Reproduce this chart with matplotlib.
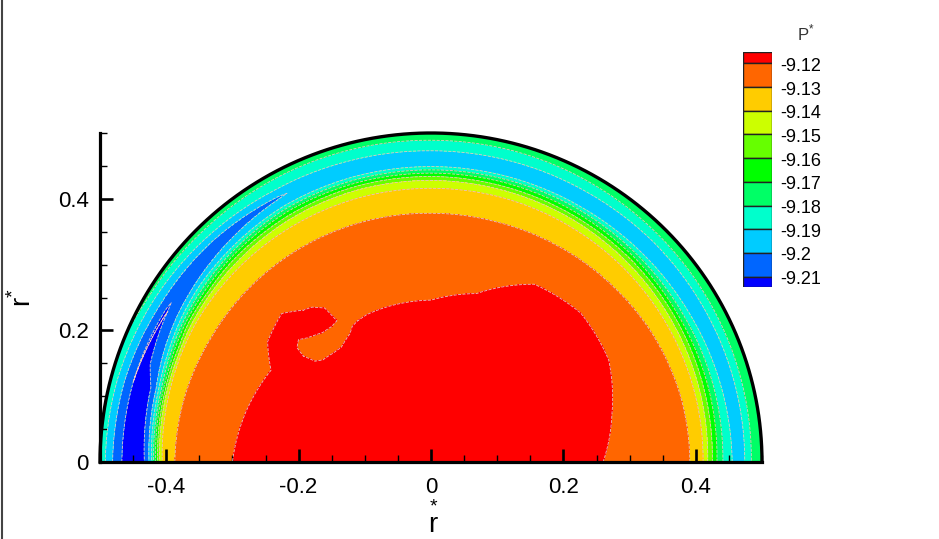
import numpy as np
import matplotlib
matplotlib.use('Agg')
import matplotlib.pyplot as plt
import matplotlib.tri as mtri
from matplotlib.ticker import MultipleLocator
from matplotlib.lines import Line2D

plt.rcParams['font.family'] = ['Liberation Sans', 'DejaVu Sans']
plt.rcParams['mathtext.fontset'] = 'custom'
plt.rcParams['mathtext.rm'] = 'Liberation Sans'

# contour levels and Tecplot band colours (low -> high)
levels = [-9.21, -9.20, -9.19, -9.18, -9.17, -9.16, -9.15, -9.14, -9.13, -9.12]
band_colors = ['#0000ff', '#0066ff', '#00ccff', '#00ffcc', '#00ff66',
               '#00ff00', '#66ff00', '#ccff00', '#ffcc00', '#ff6600', '#ff0000']
legend_labels = ['-9.12', '-9.13', '-9.14', '-9.15', '-9.16',
                 '-9.17', '-9.18', '-9.19', '-9.2', '-9.21']

nan = np.nan
# radial rays (deg) and radius where each level is crossed along the ray
ray_angle = [0, 15, 30, 45, 60, 75, 90, 105, 120, 135, 150, 165, 180]
p_center = -9.113
r_912 = [0.260, 0.283, 0.310, 0.320, 0.312, 0.265, 0.246, 0.245, 0.238, 0.319, 0.279, 0.290, 0.300]
r_913 = [0.391, 0.390, 0.387, 0.383, 0.380, 0.378, 0.378, 0.379, 0.380, 0.381, 0.382, 0.385, 0.387]
r_914 = [0.411, 0.412, 0.413, 0.414, 0.415, 0.416, 0.416, 0.416, 0.415, 0.414, 0.413, 0.409, 0.406]
r_915 = [0.418, 0.420, 0.422, 0.424, 0.426, 0.427, 0.428, 0.428, 0.426, 0.422, 0.418, 0.413, 0.410]
r_916 = [0.425, 0.427, 0.429, 0.431, 0.432, 0.433, 0.434, 0.434, 0.432, 0.428, 0.423, 0.416, 0.413]
r_917 = [0.432, 0.434, 0.435, 0.437, 0.438, 0.439, 0.439, 0.439, 0.438, 0.433, 0.427, 0.419, 0.416]
r_918 = [0.441, 0.442, 0.442, 0.443, 0.444, 0.444, 0.444, 0.444, 0.443, 0.438, 0.431, 0.422, 0.419]
r_919 = [0.455, 0.453, 0.451, 0.450, 0.449, 0.449, 0.449, 0.449, 0.448, 0.443, 0.436, 0.426, 0.422]
r_920_in = [nan, nan, nan, nan, nan, nan, nan, nan, 0.461, 0.452, 0.443, 0.430, 0.426]
r_921_in = [nan, nan, nan, nan, nan, nan, nan, nan, nan, nan, 0.459, 0.438, 0.433]
r_min = [0.465, 0.464, 0.463, 0.462, 0.461, 0.461, 0.461, 0.461, 0.463, 0.462, 0.461, 0.452, 0.450]
r_921_out = [nan, nan, nan, nan, nan, nan, nan, nan, nan, nan, 0.463, 0.466, 0.467]
r_920_out = [nan, nan, nan, nan, nan, nan, nan, nan, 0.465, 0.471, 0.474, 0.479, 0.481]
r_919_out = [0.474, 0.474, 0.474, 0.474, 0.473, 0.473, 0.473, 0.474, 0.476, 0.481, 0.486, 0.490, 0.492]
r_918_out = [0.484, 0.485, 0.486, 0.487, 0.488, 0.489, 0.489, 0.490, 0.491, 0.492, 0.495, nan, nan]
p_min = [-9.197, -9.197, -9.197, -9.197, -9.197, -9.197, -9.197, -9.198, -9.2003, -9.206, -9.2105, -9.214, -9.216]
p_wall = [-9.172, -9.172, -9.172, -9.172, -9.172, -9.172, -9.172, -9.173, -9.174, -9.175, -9.177, -9.183, -9.186]
r_wall = 0.5

# extra points around the orange tongue cutting into the red core
tongue_x = [-0.190, -0.165, -0.140, -0.125, -0.115, -0.200, -0.160, -0.125,
            -0.210, -0.185, -0.160, -0.215, -0.195, -0.160, -0.130, -0.105, -0.080]
tongue_y = [0.172, 0.176, 0.194, 0.210, 0.235, 0.252, 0.250, 0.240,
            0.200, 0.210, 0.218, 0.175, 0.150, 0.135, 0.155, 0.195, 0.212]
tongue_p = [-9.124, -9.124, -9.124, -9.124, -9.124, -9.124, -9.124, -9.124,
            -9.116, -9.116, -9.116, -9.116, -9.116, -9.116, -9.116, -9.116, -9.116]

# build nodes in (theta, r) space
th_nodes, r_nodes, p_nodes = [], [], []
cols = [r_912, r_913, r_914, r_915, r_916, r_917, r_918, r_919,
        r_920_in, r_921_in, r_min, r_921_out, r_920_out, r_919_out, r_918_out]
for k, a in enumerate(ray_angle):
    vals = [-9.12, -9.13, -9.14, -9.15, -9.16, -9.17, -9.18, -9.19,
            -9.20, -9.21, p_min[k], -9.21, -9.20, -9.19, -9.18]
    prof_r = [0.0] + [c[k] for c in cols] + [r_wall]
    prof_p = [p_center] + vals + [p_wall[k]]
    for rr, pp in zip(prof_r, prof_p):
        if not np.isnan(rr):
            th_nodes.append(np.deg2rad(a))
            r_nodes.append(rr)
            p_nodes.append(pp)
for tx, ty, tp in zip(tongue_x, tongue_y, tongue_p):
    th_nodes.append(np.arctan2(ty, tx))
    r_nodes.append(np.hypot(tx, ty))
    p_nodes.append(tp)

th_nodes = np.array(th_nodes)
r_nodes = np.array(r_nodes)
p_nodes = np.array(p_nodes)

# triangulate in (theta, r) so contours follow arcs, then map to x, y
scale = 0.45
tri_p = mtri.Triangulation(th_nodes * scale, r_nodes)
interp = mtri.LinearTriInterpolator(tri_p, p_nodes)
refiner = mtri.UniformTriRefiner(tri_p)
tri_f, p_f = refiner.refine_field(p_nodes, triinterpolator=interp, subdiv=3)
th_f = tri_f.x / scale
x_f = tri_f.y * np.cos(th_f)
y_f = tri_f.y * np.sin(th_f)
tri_xy = mtri.Triangulation(x_f, y_f, tri_f.triangles)
t = tri_f.triangles
area = 0.5 * np.abs((x_f[t[:, 1]] - x_f[t[:, 0]]) * (y_f[t[:, 2]] - y_f[t[:, 0]])
                    - (x_f[t[:, 2]] - x_f[t[:, 0]]) * (y_f[t[:, 1]] - y_f[t[:, 0]]))
tri_xy.set_mask(area < 1e-12)

fig = plt.figure(figsize=(9.39, 5.39), dpi=100)
ax = fig.add_axes([100/939, 77/539, 662/939, 329/539])

ax.tricontourf(tri_xy, p_f, levels=[-9.5] + levels + [-8.9], colors=band_colors)
ax.tricontour(tri_xy, p_f, levels=levels, colors='#e6c4c4', linewidths=0.6)

arc = np.linspace(0, np.pi, 400)
ax.plot(r_wall*np.cos(arc), r_wall*np.sin(arc), color='k', lw=2.4, clip_on=False, zorder=3)

ax.set_xlim(-0.5, 0.5)
ax.set_ylim(0, 0.5)
for s in ['top', 'right']:
    ax.spines[s].set_visible(False)
for s in ['left', 'bottom']:
    ax.spines[s].set_linewidth(2.3)
ax.set_xticks([-0.4, -0.2, 0, 0.2, 0.4], ['-0.4', '-0.2', '0', '0.2', '0.4'])
ax.set_yticks([0, 0.2, 0.4], ['0', '0.2', '0.4'])
ax.xaxis.set_minor_locator(MultipleLocator(0.05))
ax.yaxis.set_minor_locator(MultipleLocator(0.05))
ax.tick_params(which='major', direction='in', length=9.5, width=1.9, labelsize=16)
ax.tick_params(which='minor', direction='in', length=5, width=1.0)
ax.tick_params(axis='x', which='major', pad=11)
ax.tick_params(axis='y', which='major', pad=8)

# axis titles r* (star above the r on x, to its left on y)
fig.text(433/939, 1 - 533/539, r'$\overset{*}{\mathrm{r}}$', fontsize=20,
         ha='center', va='baseline')
fig.text(37/939, 1 - 298/539, r'$\mathrm{r}^{*}$', fontsize=20,
         ha='right', va='center', rotation=90)

# legend (contour key)
top_px, bot_px = 52.3, 286.7
lax = fig.add_axes([743/939, 1 - bot_px/539, 28.5/939, (bot_px - top_px)/539])
lax.set_xlim(0, 1)
lax.set_ylim(bot_px, top_px)
lax.axis('off')
edges = [top_px, 63.3] + [63.3 + 23.71*i for i in range(1, 10)] + [bot_px]
for i, c in enumerate(band_colors[::-1]):
    lax.bar(0.5, edges[i+1] - edges[i], bottom=edges[i], width=1.0, color=c,
            edgecolor='#222222', linewidth=1.0)
for i, lab in enumerate(legend_labels):
    fig.text(780/939, 1 - (edges[i+1] + 3)/539, lab, fontsize=13, ha='left', va='center')
fig.text(806/939, 1 - 33/539, r'$\mathrm{P}^{*}$', fontsize=12, ha='center', va='center',
         color='#333333')

fig.add_artist(Line2D([1.5/939, 1.5/939], [0, 1], color='#444444', lw=1.5))

fig.savefig('out.png', dpi=100)
